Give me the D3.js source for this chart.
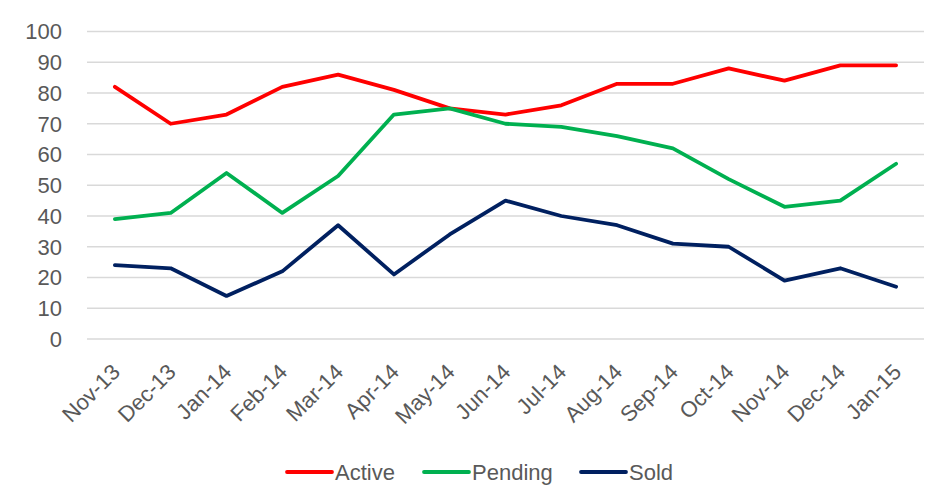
<!DOCTYPE html>
<html>
<head>
<meta charset="utf-8">
<script src="https://cdn.jsdelivr.net/npm/d3@7"></script>
<style>
  body { margin: 0; background: #fff; }
  svg text { font-family: "Liberation Sans", "DejaVu Sans", sans-serif; fill: #595959; }
</style>
</head>
<body>
<svg width="930" height="490"></svg>
<script>
const months = ['Nov-13','Dec-13','Jan-14','Feb-14','Mar-14','Apr-14','May-14','Jun-14','Jul-14','Aug-14','Sep-14','Oct-14','Nov-14','Dec-14','Jan-15'];
const active  = [82, 70, 73, 82, 86, 81, 75, 73, 76, 83, 83, 88, 84, 89, 89];
const pending = [39, 41, 54, 41, 53, 73, 75, 70, 69, 66, 62, 52, 43, 45, 57];
const sold    = [24, 23, 14, 22, 37, 21, 34, 45, 40, 37, 31, 30, 19, 23, 17];
const yTicks = [0, 10, 20, 30, 40, 50, 60, 70, 80, 90, 100];

const seriesNames = ['Active', 'Pending', 'Sold'];
const seriesColors = ['#ff0000', '#00b050', '#002060'];
const series = [active, pending, sold].map((vals, i) => ({name: seriesNames[i], color: seriesColors[i], values: vals}));

const plotLeft = 87, plotRight = 924, plotTop = 31.5, plotBottom = 339;

// 카테고리 축: 각 월이 같은 폭을 가짐
const x = d3.scaleBand().domain(months).range([plotLeft, plotRight]);
const y = d3.scaleLinear().domain([0, 100]).range([plotBottom, plotTop]);

const svg = d3.select('svg');

// 가로 눈금선
svg.append('g')
  .selectAll('line')
  .data(yTicks)
  .enter()
  .append('line')
  .attr('x1', plotLeft).attr('x2', plotRight)
  .attr('y1', d => y(d)).attr('y2', d => y(d))
  .attr('stroke', '#d9d9d9')
  .attr('stroke-width', 1.3);

// y축 라벨
svg.append('g')
  .selectAll('text')
  .data(yTicks)
  .enter()
  .append('text')
  .attr('x', 62)
  .attr('y', d => y(d))
  .attr('dy', '0.36em')
  .attr('text-anchor', 'end')
  .style('font-size', '22px')
  .text(d => d);

// x축 라벨 (45도 회전)
svg.append('g')
  .selectAll('text')
  .data(months)
  .enter()
  .append('text')
  .attr('transform', d => `translate(${x(d) + x.bandwidth() / 2 + 1},${plotBottom + 29}) rotate(-45)`)
  .attr('text-anchor', 'end')
  .attr('dy', '0.35em')
  .style('font-size', '22px')
  .text(d => d);

const line = d3.line()
  .x((d, i) => x(months[i]) + x.bandwidth() / 2)
  .y(d => y(d));

svg.append('g')
  .selectAll('path')
  .data(series)
  .enter()
  .append('path')
  .attr('d', s => line(s.values))
  .attr('fill', 'none')
  .attr('stroke', s => s.color)
  .attr('stroke-width', 3.8)
  .attr('stroke-linejoin', 'round')
  .attr('stroke-linecap', 'round');

// 범례
const legendX = [287, 424, 581];
const legend = svg.append('g')
  .selectAll('g')
  .data(series)
  .enter()
  .append('g')
  .attr('transform', (s, i) => `translate(${legendX[i]},472)`);

legend.append('line')
  .attr('x1', 0).attr('x2', 45)
  .attr('stroke', s => s.color)
  .attr('stroke-width', 3.8)
  .attr('stroke-linecap', 'round');

legend.append('text')
  .attr('x', 48)
  .attr('dy', '0.36em')
  .style('font-size', '22px')
  .text(s => s.name);
</script>
</body>
</html>
